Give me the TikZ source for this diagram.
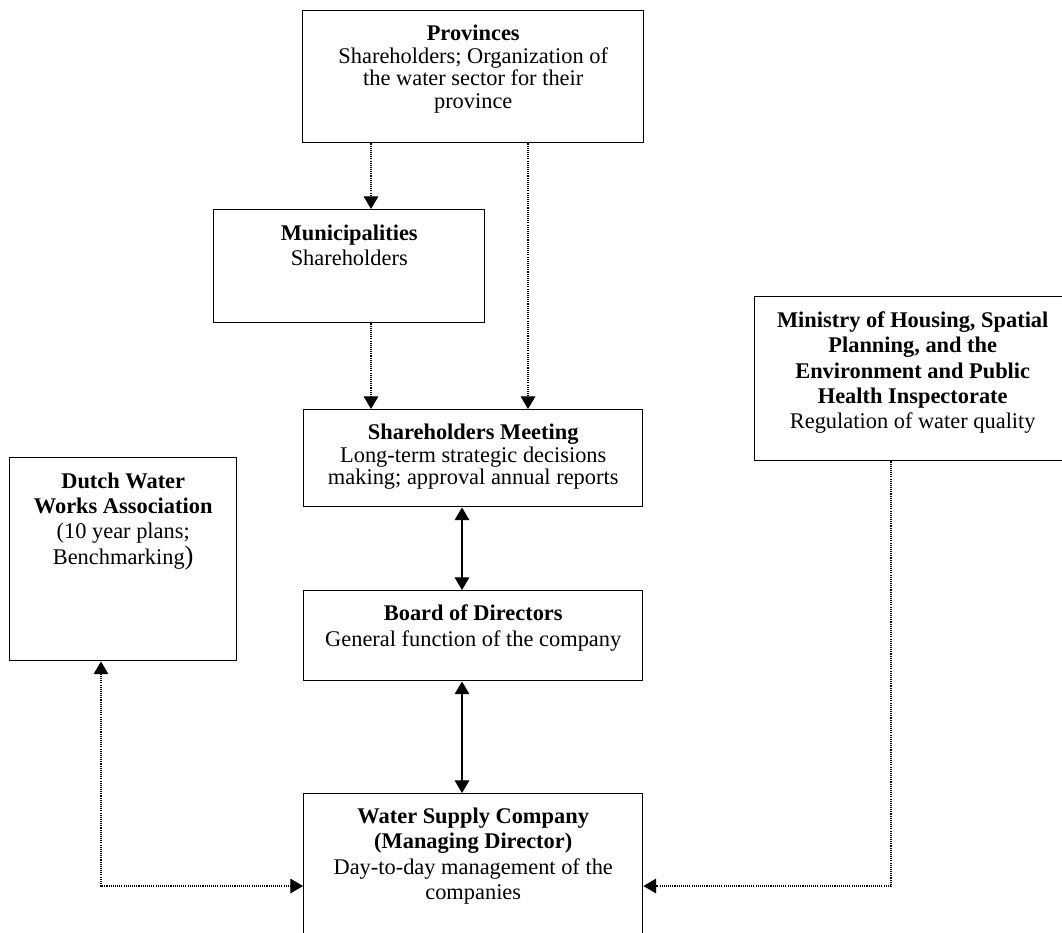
\documentclass[tikz,border=0pt]{standalone}
\usepackage{fontspec}
\setmainfont{Liberation Serif}
\usetikzlibrary{arrows.meta}
\begin{document}
\begin{tikzpicture}[x=0.75pt,y=-0.75pt,
  box/.style={draw, line width=1.1pt, inner sep=0pt, anchor=north west},
  txt/.style={anchor=north, align=center, inner sep=0pt,
    font=\fontsize{16.8}{19}\selectfont},
  tighttxt/.style={txt, font=\fontsize{16.8}{17}\selectfont},
  dotline/.style={line width=0.8pt, dash pattern=on 0.8pt off 0.8pt},
  solidline/.style={line width=0.8pt},
  tipend/.style={-{Triangle[length=9.5pt,width=11pt]}},
  tipboth/.style={{Triangle[length=9.5pt,width=11pt]}-{Triangle[length=9.5pt,width=11pt]}}
]
\useasboundingbox (0,0) rectangle (1062,932);
\clip (0,0) rectangle (1062,932);

% boxes
\node[box, minimum width=341*0.75pt, minimum height=132*0.75pt] (prov)  at (302,10)  {};
\node[box, minimum width=271*0.75pt, minimum height=113*0.75pt] (muni)  at (213,209) {};
\node[box, minimum width=339*0.75pt, minimum height=97*0.75pt]  (meet)  at (303,409) {};
\node[box, minimum width=339*0.75pt, minimum height=90*0.75pt]  (board) at (303,590) {};
\node[box, minimum width=339*0.75pt, minimum height=170*0.75pt] (water) at (303,793) {};
\node[box, minimum width=227*0.75pt, minimum height=203*0.75pt] (dutch) at (9,457)   {};
\node[box, minimum width=316*0.75pt, minimum height=164*0.75pt] (mini)  at (754,296) {};

% box texts
\node[tighttxt] (provt) at ([yshift=-11pt]prov.north)
  {\textbf{Provinces}\\Shareholders; Organization of\\the water sector for their\\province};
\node[txt] (munit) at ([yshift=-11.5pt]muni.north)
  {\textbf{Municipalities}\\Shareholders};
\node[tighttxt] (meett) at ([yshift=-11pt]meet.north)
  {\textbf{Shareholders Meeting}\\Long-term strategic decisions\\making; approval annual reports};
\node[txt] (boardt) at ([yshift=-11pt]board.north)
  {\textbf{Board of Directors}\\General function of the company};
\node[txt] (watert) at ([yshift=-11pt]water.north)
  {\textbf{Water Supply Company}\\\textbf{(Managing Director)}\\Day-to-day management of the\\companies};
\node[txt] (dutcht) at ([yshift=-11.5pt]dutch.north)
  {\textbf{Dutch Water}\\\textbf{Works Association}\\(10 year plans;\\Benchmarking{\fontsize{20}{19}\selectfont)}};
\node[txt] (minit) at ([yshift=-11.5pt]mini.north)
  {\textbf{Ministry of Housing, Spatial}\\\textbf{Planning, and the}\\\textbf{Environment and Public}\\\textbf{Health Inspectorate}\\Regulation of water quality};

% connector columns and row
\coordinate (colA) at (371,0);
\coordinate (colB) at (528,0);
\coordinate (colC) at (462,0);
\coordinate (colL) at (101,0);
\coordinate (colR) at (891,0);
\coordinate (rowW) at (0,886);

% connectors
\draw[dotline, tipend] (prov.south -| colA) -- (muni.north -| colA);
\draw[dotline, tipend] (muni.south -| colA) -- (meet.north -| colA);
\draw[dotline, tipend] (prov.south -| colB) -- (meet.north -| colB);
\draw[solidline, tipboth] (meet.south -| colC) -- (board.north -| colC);
\draw[solidline, tipboth] (board.south -| colC) -- (water.north -| colC);
\draw[dotline, tipboth] (dutch.south -| colL) |- (water.west |- rowW);
\draw[dotline, tipend] (mini.south -| colR) |- (water.east |- rowW);
\end{tikzpicture}
\end{document}
